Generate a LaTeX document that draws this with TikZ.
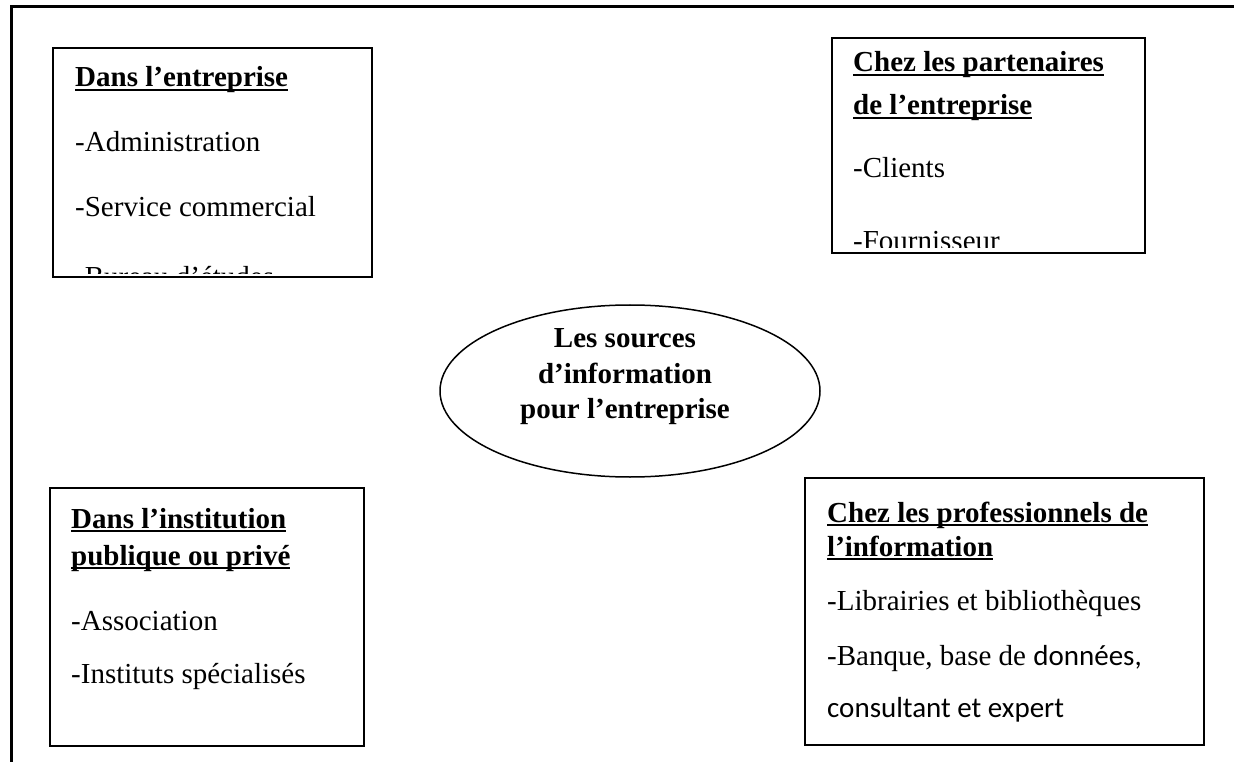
\documentclass[tikz,border=0pt]{standalone}
\usepackage{fontspec}
\setmainfont{Liberation Serif}
\newfontfamily\calibrifont{Carlito}
\usetikzlibrary{shapes.geometric,fit}

% bold heading with a Word-style underline close to the baseline
\newcommand{\ulhead}[1]{{\bfseries\setbox0\hbox{#1}\rlap{\rule[-3.6pt]{\wd0}{2pt}}\box0}}

\tikzset{
  srcbox/.style={draw=black, line width=1.7pt, inner sep=0pt, fit={#1}},
  txt/.style={anchor=base west, inner sep=0pt, font=\fontsize{29}{35}\selectfont},
  ctxt/.style={anchor=base, inner sep=0pt, font=\fontsize{29}{35}\selectfont\bfseries},
  frame/.style={line width=3pt, line cap=rect}
}

\begin{document}
\begin{tikzpicture}[x=1pt, y=-1pt]
\useasboundingbox (0,0) rectangle (1235,762);

% open outer frame
\coordinate (fbl) at (11,764);
\coordinate (ftl) at (11,7);
\coordinate (ftr) at (1232,7);
\draw[frame] (fbl) -- (ftl) -- (ftr);

% the four boxes
\node[srcbox={(53,48) (372,277)}] (entreprise) {};
\node[srcbox={(832,38) (1145,253)}] (partenaires) {};
\node[srcbox={(50,488) (364,746)}] (institution) {};
\node[srcbox={(805,478) (1204,745)}] (professionnels) {};

% Dans l'entreprise (last line cut by the box)
\begin{scope}
\clip (53,48) rectangle (372,274);
\node[txt] (e0) at (75,87) {\ulhead{Dans l’entreprise}};
\node[txt] (e1) at (75,152) {-Administration};
\node[txt] (e2) at (75,217) {-Service commercial};
\node[txt] (e3) at (75,287) {-Bureau d’études};
\end{scope}

% Chez les partenaires (last line cut by the box)
\begin{scope}
\clip (832,38) rectangle (1145,248);
\node[txt] (p0) at (853,72) {\ulhead{Chez les partenaires}};
\node[txt] (p1) at (853,115) {\ulhead{de l’entreprise}};
\node[txt] (p2) at (853,178) {-Clients};
\node[txt] (p3) at (853,251) {-Fournisseur};
\end{scope}

% Dans l'institution
\node[txt] (i0) at (71,528) {\ulhead{Dans l’institution}};
\node[txt] (i1) at (71,565) {\ulhead{publique ou privé}};
\node[txt] (i2) at (71,630) {-Association};
\node[txt] (i3) at (71,683) {-Instituts spécialisés};

% Chez les professionnels
\node[txt] (f0) at (827,522) {\ulhead{Chez les professionnels de}};
\node[txt] (f1) at (827,556) {\ulhead{l’information}};
\node[txt] (f2) at (827,610) {-Librairies et bibliothèques};
\node[txt] (f3) at (827,665) {-Banque, base de {\calibrifont données,}};
\node[txt] (f4) at (827,717) {\calibrifont consultant et expert};

% central ellipse
\node[draw=black, line width=1.5pt, ellipse, minimum width=380pt, minimum height=172pt, inner sep=0pt] (centre) at (630,391) {};
\node[ctxt] (c0) at (625,347) {Les sources};
\node[ctxt] (c1) at (625,383) {d’information};
\node[ctxt] (c2) at (625,418) {pour l’entreprise};
\end{tikzpicture}
\end{document}
